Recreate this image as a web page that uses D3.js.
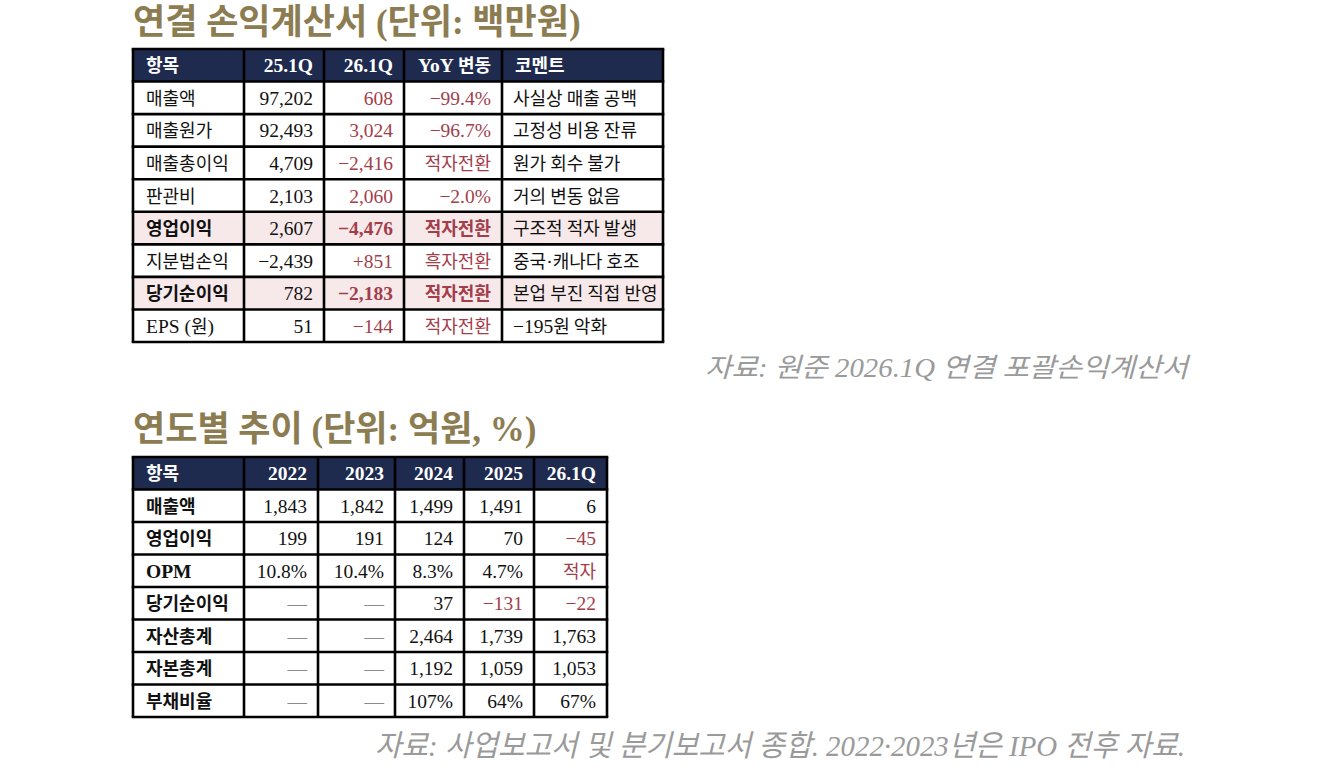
<!DOCTYPE html>
<html>
<head>
<meta charset="utf-8">
<script src="https://cdn.jsdelivr.net/npm/d3@7"></script>
<style>
  body { margin: 0; background: #fff; }
  svg { display: block; font-family: "Liberation Serif", "Noto Sans CJK KR", serif; }
</style>
</head>
<body>
<div id="chart"></div>
<script>
const NAVY = '#1E2A4E';
const PINK = '#F7E9EA';
const RED = '#A33D4A';
const GOLD = '#8C7C51';
const GREY = '#9A9A9A';

// 표 1: 연결 손익계산서 (백만원)
const t1Title = '연결 손익계산서 (단위: 백만원)';
const t1Header = ['항목', '25.1Q', '26.1Q', 'YoY 변동', '코멘트'];
const t1Items = ['매출액', '매출원가', '매출총이익', '판관비', '영업이익', '지분법손익', '당기순이익', 'EPS (원)'];
const t1Q25 = ['97,202', '92,493', '4,709', '2,103', '2,607', '−2,439', '782', '51'];
const t1Q26 = ['608', '3,024', '−2,416', '2,060', '−4,476', '+851', '−2,183', '−144'];
const t1Yoy = ['−99.4%', '−96.7%', '적자전환', '−2.0%', '적자전환', '흑자전환', '적자전환', '적자전환'];
const t1Comment = ['사실상 매출 공백', '고정성 비용 잔류', '원가 회수 불가', '거의 변동 없음', '구조적 적자 발생', '중국·캐나다 호조', '본업 부진 직접 반영', '−195원 악화'];
const t1Key = ['영업이익', '당기순이익'];
const t1Source = '자료: 원준 2026.1Q 연결 포괄손익계산서';

// 표 2: 연도별 추이 (억원, %)
const t2Title = '연도별 추이 (단위: 억원, %)';
const t2Header = ['항목', '2022', '2023', '2024', '2025', '26.1Q'];
const t2Items = ['매출액', '영업이익', 'OPM', '당기순이익', '자산총계', '자본총계', '부채비율'];
const t2Y2022 = ['1,843', '199', '10.8%', '—', '—', '—', '—'];
const t2Y2023 = ['1,842', '191', '10.4%', '—', '—', '—', '—'];
const t2Y2024 = ['1,499', '124', '8.3%', '37', '2,464', '1,192', '107%'];
const t2Y2025 = ['1,491', '70', '4.7%', '−131', '1,739', '1,059', '64%'];
const t2Q26 = ['6', '−45', '적자', '−22', '1,763', '1,053', '67%'];
const t2Source = '자료: 사업보고서 및 분기보고서 종합. 2022·2023년은 IPO 전후 자료.';

const width = 1320;
const height = 769;
const NUM_SIZE = 19.5;
const KOR_SIZE = 18;

const svg = d3.select('#chart').append('svg')
  .attr('width', width)
  .attr('height', height);

function isNeg(v) {
  return v.startsWith('−') || v.startsWith('적자');
}

// 한글은 고딕, 숫자·영문은 명조로 나눠 찍는다
function writeRuns(textEl, str) {
  const runs = str.split(/([\uAC00-\uD7A3]+(?: [\uAC00-\uD7A3]+)*)/).filter(s => s.length);
  runs.forEach(s => {
    const kor = /[\uAC00-\uD7A3]/.test(s);
    textEl.append('tspan')
      .attr('font-family', kor ? '"Noto Sans CJK KR", sans-serif' : '"Liberation Serif", serif')
      .attr('font-size', kor ? KOR_SIZE : NUM_SIZE)
      .text(s);
  });
}

function renderTable(opt) {
  const edges = [opt.left].concat(Array.from(d3.cumsum(opt.widths), w => opt.left + w));
  const x = d3.scaleOrdinal().domain(d3.range(edges.length)).range(edges);
  const y = d3.scaleBand()
    .domain(d3.range(opt.rows.length + 1))
    .range([opt.top, opt.bottom])
    .paddingInner(0);
  const rh = y.bandwidth();
  const pad = 13;

  const g = svg.append('g');

  // header
  const head = g.append('g');
  head.selectAll('rect')
    .data(opt.header)
    .enter()
    .append('rect')
    .attr('x', (d, i) => x(i))
    .attr('y', y(0))
    .attr('width', (d, i) => x(i + 1) - x(i))
    .attr('height', rh)
    .attr('fill', NAVY);

  head.selectAll('text')
    .data(opt.header)
    .enter()
    .append('text')
    .attr('x', (d, i) => opt.align[i] === 'start' ? x(i) + pad : x(i + 1) - 11)
    .attr('y', y(0) + rh / 2 + 7)
    .attr('text-anchor', (d, i) => opt.align[i])
    .attr('fill', '#fff')
    .attr('font-weight', 'bold')
    .each(function(d) { writeRuns(d3.select(this), d); });

  // body rows
  const rows = g.selectAll('.row')
    .data(opt.rows)
    .enter()
    .append('g')
    .attr('class', 'row');

  rows.each(function(row, r) {
    const rg = d3.select(this);
    const key = opt.isKey(row, r);
    rg.selectAll('rect')
      .data(row)
      .enter()
      .append('rect')
      .attr('x', (d, i) => x(i))
      .attr('y', y(r + 1))
      .attr('width', (d, i) => x(i + 1) - x(i))
      .attr('height', rh)
      .attr('fill', key ? PINK : '#fff');

    rg.selectAll('text')
      .data(row)
      .enter()
      .append('text')
      .attr('x', (d, i) => opt.align[i] === 'start' ? x(i) + (i === 0 ? pad : 11) : x(i + 1) - 11)
      .attr('y', y(r + 1) + rh / 2 + 7)
      .attr('text-anchor', (d, i) => opt.align[i])
      .attr('font-weight', (d, i) => opt.isBold(i, key) ? 'bold' : 'normal')
      .attr('fill', (d, i) => opt.color(d, i))
      .each(function(d) { writeRuns(d3.select(this), d); });
  });

  // grid lines
  const grid = g.append('g')
    .attr('stroke', '#000')
    .attr('stroke-width', 2.6);

  grid.selectAll('.h')
    .data(d3.range(opt.rows.length + 2))
    .enter()
    .append('line')
    .attr('x1', edges[0] - 1.3)
    .attr('x2', edges[edges.length - 1] + 1.3)
    .attr('y1', i => i <= opt.rows.length ? y(i) : opt.bottom)
    .attr('y2', i => i <= opt.rows.length ? y(i) : opt.bottom);

  grid.selectAll('.v')
    .data(edges)
    .enter()
    .append('line')
    .attr('x1', d => d)
    .attr('x2', d => d)
    .attr('y1', opt.top)
    .attr('y2', opt.bottom);

  // title
  svg.append('text')
    .attr('x', opt.left)
    .attr('y', opt.titleY)
    .attr('fill', GOLD)
    .attr('font-weight', 'bold')
    .attr('font-size', 35)
    .text(opt.title);

  // source note
  svg.append('text')
    .attr('x', opt.sourceX)
    .attr('y', opt.sourceY)
    .attr('text-anchor', 'end')
    .attr('fill', GREY)
    .attr('font-style', 'italic')
    .attr('font-size', opt.sourceSize)
    .attr('textLength', opt.sourceLen)
    .attr('lengthAdjust', 'spacingAndGlyphs')
    .text(opt.source);
}

renderTable({
  title: t1Title,
  titleY: 34,
  left: 133,
  top: 49,
  bottom: 342,
  widths: [111, 80, 80, 98, 161],
  align: ['start', 'end', 'end', 'end', 'start'],
  header: t1Header,
  rows: t1Items.map((d, i) => [d, t1Q25[i], t1Q26[i], t1Yoy[i], t1Comment[i]]),
  isKey: row => t1Key.includes(row[0]),
  isBold: (i, key) => key && (i === 0 || i === 2 || i === 3),
  color: (d, i) => (i === 2 || i === 3) ? RED : '#111',
  source: t1Source,
  sourceX: 1188,
  sourceY: 377,
  sourceSize: 27,
  sourceLen: 483
});

renderTable({
  title: t2Title,
  titleY: 441,
  left: 133,
  top: 457,
  bottom: 717,
  widths: [111, 74, 77, 69, 70, 73],
  align: ['start', 'end', 'end', 'end', 'end', 'end'],
  header: t2Header,
  rows: t2Items.map((d, i) => [d, t2Y2022[i], t2Y2023[i], t2Y2024[i], t2Y2025[i], t2Q26[i]]),
  isKey: () => false,
  isBold: i => i === 0,
  color: (d, i) => i > 0 && isNeg(d) ? RED : (d === '—' ? '#8a8a8a' : '#111'),
  source: t2Source,
  sourceX: 1185,
  sourceY: 756,
  sourceSize: 30,
  sourceLen: 810
});
</script>
</body>
</html>
